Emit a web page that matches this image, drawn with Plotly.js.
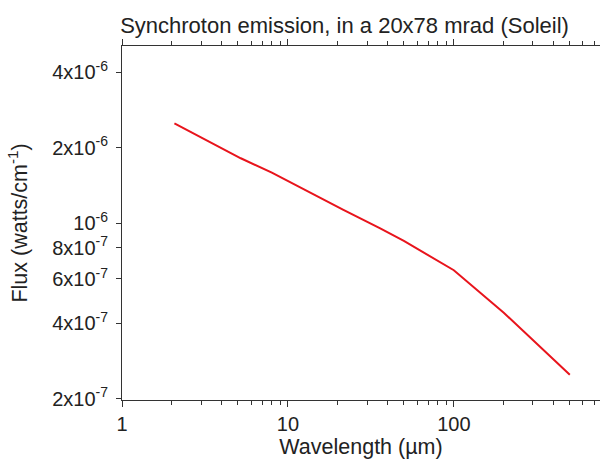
<!DOCTYPE html>
<html>
<head>
<meta charset="utf-8">
<script src="https://cdn.plot.ly/plotly-3.0.1.min.js"></script>
<style>html,body{margin:0;padding:0;background:#fff;}#chart{width:600px;height:460px;}</style>
</head>
<body>
<div id="chart"></div>
<script>
// Data
const wavelength = [2.07, 5.2, 8, 14.3, 21.6, 36, 50, 100, 200, 500];
const flux = [2.50e-6, 1.815e-6, 1.59e-6, 1.30e-6, 1.13e-6, 9.55e-7, 8.5e-7, 6.5e-7, 4.4e-7, 2.49e-7];

const yTickVals = [4e-6, 2e-6, 1e-6, 8e-7, 6e-7, 4e-7, 2e-7];
const yTickText = ["4x10<sup>-6</sup>", "2x10<sup>-6</sup>", "10<sup>-6</sup>", "8x10<sup>-7</sup>", "6x10<sup>-7</sup>", "4x10<sup>-7</sup>", "2x10<sup>-7</sup>"];
const xTickVals = [1, 10, 100];
const xTickText = ["1", "10", "100"];
const xMinorVals = [2,3,4,5,6,7,8,9,20,30,40,50,60,70,80,90,200,300,400,500,600,700];

const trace = {
  x: wavelength, y: flux, type: 'scatter', mode: 'lines',
  line: {color: '#e8141c', width: 2}, hoverinfo: 'skip', showlegend: false
};

const FAM = 'Liberation Sans, Arial, sans-serif';
const tickFont = {family: FAM, size: 20, color: '#222'};
const titleFont = {family: FAM, size: 21.5, color: '#222'};

const layout = {
  width: 600, height: 460,
  margin: {l: 122, r: 0, t: 46, b: 60},
  paper_bgcolor: '#fff', plot_bgcolor: '#fff',
  font: tickFont,
  title: {text: 'Synchroton emission, in a 20x78 mrad (Soleil)', font: {family: FAM, size: 22, color: '#222'},
          xref: 'paper', x: 0.4655, xanchor: 'center', yref: 'container', y: 0.945, yanchor: 'middle'},
  xaxis: {
    type: 'log', range: [0, 2.881], showgrid: false, zeroline: false,
    showline: true, linecolor: '#333', linewidth: 1, mirror: 'ticks',
    ticks: 'outside', ticklen: 6, tickcolor: '#333', tickwidth: 1,
    tickmode: 'array', tickvals: xTickVals, ticktext: xTickText,
    tickfont: tickFont,
    minor: {tickmode: 'array', tickvals: xMinorVals, ticks: 'outside', ticklen: 4, tickcolor: '#333', tickwidth: 1, showgrid: false},
    title: {text: 'Wavelength (µm)', font: titleFont, standoff: 3}
  },
  yaxis: {
    type: 'log', range: [-6.704, -5.294], showgrid: false, zeroline: false,
    showline: true, linecolor: '#333', linewidth: 1, mirror: false,
    ticks: 'outside', ticklen: 5, tickcolor: '#333', tickwidth: 1,
    tickmode: 'array', tickvals: yTickVals, ticktext: yTickText,
    tickfont: tickFont, ticklabelstandoff: 4,
    title: {text: 'Flux (watts/cm<sup>-1</sup>)', font: titleFont, standoff: 18}
  }
};

Plotly.newPlot('chart', [trace], layout, {staticPlot: true, displayModeBar: false});
</script>
</body>
</html>
